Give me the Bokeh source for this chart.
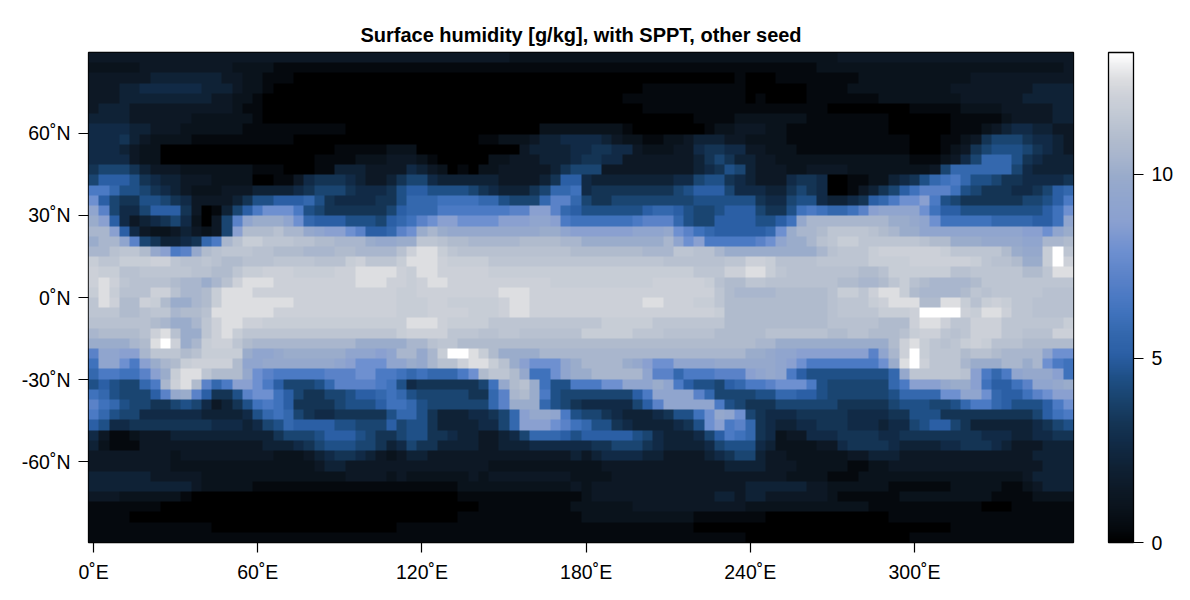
import numpy as np
from bokeh.embed import file_html
from bokeh.resources import INLINE
from bokeh.plotting import figure
from bokeh.models import LinearColorMapper, ColorBar, FixedTicker

TITLE = "Surface humidity [g/kg], with SPPT, other seed"
x_ticks = [0, 60, 120, 180, 240, 300]
x_labels = ["0˚E", "60˚E", "120˚E", "180˚E", "240˚E", "300˚E"]
y_ticks = [-60, -30, 0, 30, 60]
y_labels = ["-60˚N", "-30˚N", "0˚N", "30˚N", "60˚N"]
cbar_ticks = [0, 5, 10]

# humidity, per latitude row from north to south,
# 96 longitudes each; every letter stands for one entry of level_values
letters = "abcdefghijklmnopqrstuvwxyzZ"
level_values = [0, .4, .9, 1.4, 2.1, 2.7, 3.2, 4, 4.5, 5.1, 5.7, 6.2, 6.7, 7.2, 7.9, 8.7, 9.3, 9.7, 10,
                10.5, 10.9, 11.2, 11.4, 11.8, 12.1, 12.6, 13.3]
row_01 = "dddddddd dddddddd dddddddd dddddddd dddddddd dccccccc cccccccc cccccccc cccccccc cddddddd dddddddd dddddddd"
row_02 = "cccccddd ddddddcc ccbbbbbb bbbbbbbb bbbbbbbb bbbbbbbb bbbbbbbb bbbbbbbb bbbbbbbc cccccccc cccccccc cccccccd"
row_03 = "ddddddee eeeeeddc cbbbaaaa aaaaaaaa aaaaaaaa aaaaaaaa aaaaaaaa aaaaaaab aaabbbbb bbbccccc ccccccdd dddddddd"
row_04 = "dddeefff fffeeedc cbaaaaaa aaaaaaaa aaaaaaaa aaaaaaaa aaaaaabb bbbbbbbb aaaaaabb bbcccccc ccccdddd ddddeeee"
row_05 = "dddeeeee eeeeddcc baaaaaaa aaaaaaaa aaaaaaaa aaaaaaaa aaaabbbb bbbbbbbb abaaaabb bbbbbccc cccccddd dddeeeee"
row_06 = "deeedddd ddddddcb baaaaaaa aaaaaaaa aaaaaaaa aaaaaaaa aaaaaabb bbbbbbbb bbbbbbbb aaaaaaaa bbbbbccc cdddddee"
row_07 = "eeeedddd ddcccccc baaaaaaa aaaaaaaa aaaaaaaa aaaaaaaa aaaaaaaa aaabbbbc ccccccbb bbbbbbaa aaaabbbb bcddddee"
row_08 = "ffffeedd dccccccb bbbbbbbb baaaaaaa aaaaaaaa aaaacccc ccccbaaa aaaabccd ddccbbbb bbbbbbaa aaaabbbc deffeedd"
row_09 = "fffgedcc ccbbbbbb bbbbaaaa aaaaaaaa aaaaaabb cccdeeff ffedccbb ccdeeedd ccccbbbb bbbbbbbb aaabbcdg hhhgffed"
row_10 = "fffedcca aaaaaaaa aaaaaaaa bbbbbccc aaaaaaaa aadeeeef fggffdcc cddfggff ddcccbbb bbbbbbbb aaabcdgh iiihgfed"
row_11 = "ffffdcca aaaaaaaa aaaaaabb bbcccddd cbaaaaac cdddeeef ggffdddd dddeghge eddccccc cccccccc bbbcdfhk kkigfeee"
row_12 = "ghhhgedd dccccccc bbbaaabb eeeddddf edcabacc dddddegh hhdddddd dddefgih edddccdd ddcccccc ccdhkkkk kkhfeeee"
row_13 = "hjjjigfe edddcccc aabbdfgg gfeddegh hfeeeeee ddddegjj feeeeeee effhiigf edddfggf aabbccef giklmkii hggffffg"
row_14 = "mmkiihgf edcccddd eeeefghh hgfffgij jiiiihgf eeeghkkl fggggggg ghijjjhf ffeeghgf aabdeghj lnnnlihg ggffghjk"
row_15 = "ojhggiih gfddddeg iijjjkig ffffggik kkllllkk ihhhknnk hgghhhhh hhhiiiii igffhiif eefgjkmo opmihggg ggghhijm"
row_16 = "qnhffhjj jgdabehj mooomihg ggggghjk kkmmmmmm mnnppnkj iiiiiijk kjihhijj jhggilml kklnpqqq qoljjiii iiiiijlo"
row_17 = "spjfdefg hfcadhnq sssqokjj jiiihjkl noppoooo pppqqpml lllllmnn nkihhjjj jiijlrtt ttttttss rqolllll kkkkjjlq"
row_18 = "ttpjfdcc dedcdhpu uuvttrqp ponjjkno stsrrrrr rrrrssqp pppppqqq ronlkjjj jjkosttu wwwwvuts sqqqqqqq qqqppoqs"
row_19 = "sttqnhge efgkmtvx xwwwvvuu tttsrrss wwvuuttt ttuuuutt ssssssss tqopmmmm mnoqsstv wxxwwwww wvuusssr rrrqqttu"
row_20 = "ttvwwurp mnruvwww vvuuuttt uuttttvy zzxwvvvv vvvvvvvu uuuuuutt twwvvtss ssssssst vwwwxyyy yyyxwwww wusrrxZw"
row_21 = "xwwxxxyy wvvwvuuv vvwwwwvv vxywwwxz zzyxxxxw wwwwwwww wwwwwwww vvvvvvww yyxvvvvw wwwwxxxx yyyyyyxw vvussxZy"
row_22 = "yxxvvwww wwvvuuwx xyyyxxxx yyzzzzyx zzyyyyyx xxxxxxxx xxxxxxxx xxxwwwyy zzxwvvvv vvvuuvxx xxxxvvww wwwuuwzz"
row_23 = "yzywvvvv uttstvyz zzyyyyyy yyzzzyyx yzzyyyyy yyyyyxxx xxxxxxxy yyyyxvuu wwvvvvvv vuuttuwx vuttttuw wwwwwwww"
row_24 = "xzxvvvyy vttuxzzz yyyyyyyy yyyyyyxx yyyyyyyy zzzyyyyy yyyyyyyy yyyyywut tttuuuuu vxxwyzzx uttttuwv wwwwwvvv"
row_25 = "wzyuuyxu sstuxzzz zzzzyyyy yyyyyyxx xyyxxxxx yzzyyyyy yyyyyyzz yyyxxwuu uuuuuuuu vwwwxyzz zuuzzxvx yxwwvvvv"
row_26 = "wwwuuvww tuuvzzzz zzyyyyyy yyyyyyxx xyyyyxxx yzzyyyyy yyyyyyyy yyyyyxuu uuuuuuuu vwwwwxxx yZZZZyxz zywwvvvv"
row_27 = "vvvvvvut sstwyzzy yxxxxxxx xxxxxxxz zzyxxxxw wwwwwwww wwxxxxxw wwwwwwuu uuuuuuuu vvvvvuuu yzzywwyy ywwwwwwx"
row_28 = "tuuuuvyz vsswyzxw wwwwwwww wwwwwwxy yyywwwvv wwvvvvvv xxxxxwww vvvvvuuu uuvvvvvv uuvvuuuv xyywvwyy ywwvvvyy"
row_29 = "sssstuzZ ystxyywu tttttttt ttssssst tvwwuuuu uuuuuuuu uuuuuuuu uuuuuuuu uttsssss ssssssuy zxwvwxyx vvvuuuuu"
row_30 = "nqqpptww wuvxxxxs qqrsssss sqqqpqtt rtxZZzxu sssstttt tttttttt tttttttt ssrqqppp ppppnqty Zxwwwuvv uttttqoo"
row_31 = "lqqompst uxyyyyuq qrrrrrrr qpoooqqs rtvvyzzx vspoooqs ttttsrpo oqqqqrrr rrrqpomm mmmmmosz Zywwwtss sttstoml"
row_32 = "kmmllnps xzzwuuur onmmmmmn nnoommlk lkkkmouw wurlloqs stttttqn nkmmmnnn pqrqmjii iiiiiikr wwwwwvpm kmqrrrpl"
row_33 = "ijihhkmt yzunkmpp omjhhhik nnnnmlif gggggghl ruvsliim mmooqqqs qmjiihjk mmnooomi hhhhhhkm ppprsspl jjlnqqrs"
row_34 = "lkihhhjn rsnjggin ooljhggh hijjklki hhhhhggk ntusmihh hhhhhjmq qqqnkhhh hiikkjji hhhhhhik kkkooqqo kjjlnopp"
row_35 = "nlkihhgg hihfdegi lmljgggg hiiijllk ihhhhhhk nssskihg fffffhjn qqqqqmih ggghhhhh hggggghi iihhikmm kjiiijmo"
row_36 = "mkihhfff fffeeeef iklkhgff gggggikk igeeeffg hkprrqmi hhgfeeef giilorqo hgfffggg ggffffgg iiiggggg gggghjlm"
row_37 = "jiffgggg ggggfffe fhikjjjj iihhhjhi igeeeeff hkppponl kiigfeee efgiopmn kgfeeffg ggfffeff hijjhgee eeeefghi"
row_38 = "fdbbcddd eeeeeeee eeghhhij jjihgghi iggfeedd efhkkkji jjjjjihf eeefhjml kgfcddff fggggffg gggggggf ffeeffgg"
row_39 = "ecbbbddd dddddddd deeefghi iihhgefh ggeeeedd eeefffff fgghhhgf eeeefhii ifeccccd dfggggfe eeeffggg fedddeee"
row_40 = "dddddddd cddddddd ddcccdef ggfedcde eddddddd ddddddde deffffee ddddefgh heddcccc ccddeeed dddddddd ddddeeee"
row_41 = "dddddddd cccccccc ccccccde eddddddd dddddddc cccccccc ccdddddd ddddddee eedddccc ccbbccdd dddddddd dddddeee"
row_42 = "eeeeeedd dddccccc cccccccc cddddcdc cccccdcd dddddddc cccddddd dddddddd ddddcccc bbbccccc cccccccc cccdeeee"
row_43 = "eeeeeeee eedccccc bbbbbbbb bbbbbbbb bbbbcccc cccccccd cddddddd dddddddd eeeeeedd ccccccbb bbbbcccc cbbcdeee"
row_44 = "dddccccc cbaaaaaa aaaaaaaa aaaaaaaa aaaabbbb bbbbbbbb cddddddd dddddeed eedddddd cbbbbbbc cccccccc bbbbcccc"
row_45 = "bbbbbbba aaaaaaaa aaaaaaaa aaaaaaaa aaaaaabb bbbbbbbc cccccddd dddddddd cccccccc ccccbbbb bbbbbbba aabbbbbb"
row_46 = "bbbbaaaa aaaaaaaa aaaaaaaa aaaaaaaa aaaabbbb bbbbbbbb cccccccc cccbbbbb bbaaaaaa aaaaaabb bbbbbbbb bbbbbbbb"
row_47 = "bbbbbbbb bbbbaaaa aaaaaaaa aaaaaabb bbbbbbbb bbbbbbbb bbbbbbbb bbbaaaaa aaaaaaaa aaaaaaaa aaaabbbb bbbbbbbb"
row_48 = "bbbbbbbb bbbbbbbb bbbbbbbb bbbbbbbb bbbbbbbb bbbbbbbb bbbbbbbb bbbbbbbb aaaaaaaa aaaaaaaa bbbbbbbb bbbbbbbb"

rows = [row_01, row_02, row_03, row_04, row_05, row_06, row_07, row_08, row_09, row_10, row_11, row_12,
        row_13, row_14, row_15, row_16, row_17, row_18, row_19, row_20, row_21, row_22, row_23, row_24,
        row_25, row_26, row_27, row_28, row_29, row_30, row_31, row_32, row_33, row_34, row_35, row_36,
        row_37, row_38, row_39, row_40, row_41, row_42, row_43, row_44, row_45, row_46, row_47, row_48]
lookup = dict(zip(letters, level_values))
grid = np.array([[lookup[c] for c in r.replace(" ", "")] for r in rows], dtype=float)[::-1]

VMAX = 13.3
stops_v = [0, .4, .9, 1.4, 2.1, 2.7, 3.2, 4, 4.5, 5.1, 5.7, 6.2, 6.7, 7.2, 7.9, 8.7, 9.3, 9.7, 10, 10.5, 10.9,
           11.4, 11.8, 12.1, 12.6, 13.3]
stops_c = ["#000000", "#050a0f", "#0a131c", "#0d1926", "#0f2236", "#112b47", "#143454", "#1a4672", "#1f5088",
           "#2b5fa5", "#3468ae", "#3f72bc", "#4c7ac4", "#5a82c8", "#6d8fd0", "#8aa0d0", "#90a5ce", "#95a8cc",
           "#9aaccb", "#a8b5cd", "#b0bbcd", "#bcc5d2", "#c6ccd6", "#ccd0d8", "#dcdde0", "#ffffff"]
rgb = np.array([[int(c[i:i + 2], 16) for i in (1, 3, 5)] for c in stops_c], dtype=float)
vv = np.linspace(0, VMAX, 256)
palette = ["#%02x%02x%02x" % tuple(int(round(np.interp(v, stops_v, rgb[:, k]))) for k in range(3)) for v in vv]
mapper = LinearColorMapper(palette=palette, low=0, high=VMAX)

FONT = "Liberation Sans"
p = figure(frame_width=985, frame_height=490, width=1185, height=595, output_backend="svg", toolbar_location=None,
           x_range=(-1.875, 358.125), y_range=(-89.4, 89.4), tools="",
           min_border_left=88, min_border_top=52, min_border_bottom=53, min_border_right=60)
p.image(image=[grid], x=-1.875, y=-89.4, dw=360, dh=178.8, color_mapper=mapper)
p.title.text = TITLE
p.title.align = "center"
p.title.text_font = FONT
p.title.text_font_size = "20px"
p.title.text_font_style = "bold"
p.title.text_color = "black"
p.title.offset = 0
p.title.standoff = 14
p.grid.visible = False
p.outline_line_color = "black"
p.outline_line_width = 1.3

for ax, ticks, labels in ((p.xaxis[0], x_ticks, x_labels), (p.yaxis[0], y_ticks, y_labels)):
    ax.ticker = FixedTicker(ticks=ticks)
    ax.major_label_overrides = dict(zip(ticks, labels))
    ax.major_tick_out = 10
    ax.major_tick_in = 0
    ax.minor_tick_line_color = None
    ax.axis_line_color = None
    ax.major_tick_line_color = "black"
    ax.major_tick_line_width = 1.2
    ax.major_label_text_font = FONT
    ax.major_label_text_font_size = "19.5px"
    ax.major_label_text_color = "black"
    ax.major_label_standoff = 8

cb = ColorBar(color_mapper=mapper, ticker=FixedTicker(ticks=cbar_ticks), width=25, height=490,
              location=(35, 0), padding=0, major_tick_in=0, major_tick_out=10, major_tick_line_color="black",
              major_tick_line_width=1.2, minor_tick_line_color=None, bar_line_color="black", bar_line_width=1.3,
              major_label_text_font=FONT, major_label_text_font_size="19.5px", major_label_text_color="black",
              label_standoff=8, title=None)
p.add_layout(cb, "right")

open("out.html", "w").write(file_html(p, INLINE))
